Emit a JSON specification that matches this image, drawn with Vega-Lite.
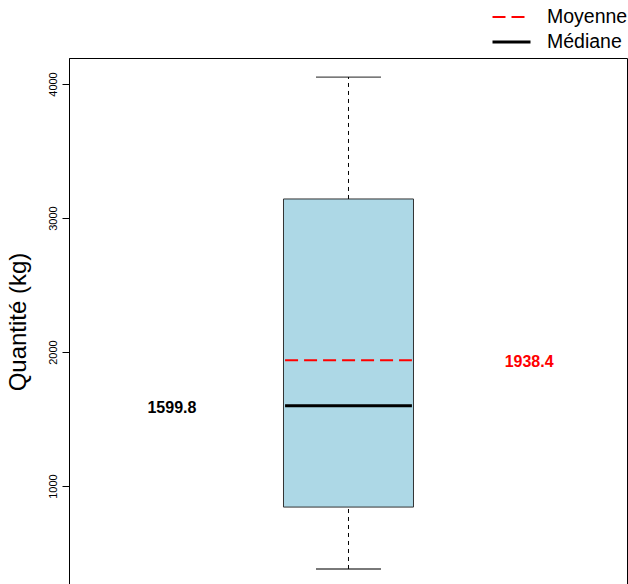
{
  "$schema": "https://vega.github.io/schema/vega-lite/v6.json",
  "width": 558,
  "height": 527,
  "autosize": "none",
  "padding": {"left": 69, "top": 58, "right": 1, "bottom": -1},
  "background": "white",
  "config": {"view": {"stroke": "#000000", "strokeWidth": 1}, "font": "Liberation Sans"},
  "datasets": {
    "stats": [{"groupe": 1, "min": 381, "q1": 843, "median": 1599.8, "q3": 3142, "max": 4052, "mean": 1938.4}],
    "lignes": [{"stat": "Moyenne", "valeur": 1938.4}, {"stat": "Médiane", "valeur": 1599.8}],
    "etiquettes": [{"lx": 0.652, "valeur": 1599.8, "texte": "1599.8"}, {"lx": 1.356, "valeur": 1938.4, "texte": "1938.4"}]
  },
  "layer": [
    {
      "data": {"name": "stats"},
      "mark": {"type": "bar", "width": 130, "fill": "#ADD8E6", "stroke": "#333333", "strokeWidth": 1},
      "encoding": {
        "x": {"field": "groupe", "type": "quantitative", "scale": {"domain": [0.459032, 1.539032], "nice": false, "zero": false}, "axis": null},
        "y": {"field": "q1", "type": "quantitative", "scale": {"domain": [261.5, 4194], "nice": false, "zero": false},
              "axis": {"values": [1000, 2000, 3000, 4000], "format": "d", "labelAngle": 270, "labelAlign": "center", "labelBaseline": "bottom",
                       "labelFontSize": 11, "labelColor": "#000000", "labelPadding": 4, "tickSize": 7, "tickColor": "#000000",
                       "domainColor": "#000000", "domainWidth": 1, "grid": false, "title": "Quantité (kg)", "titleFontSize": 24,
                       "titleFontWeight": "normal", "titleColor": "#000000", "titlePadding": 17}},
        "y2": {"field": "q3"}
      }
    },
    {
      "data": {"name": "stats"},
      "mark": {"type": "rule", "color": "#000000", "strokeWidth": 1, "strokeDash": [4, 4]},
      "encoding": {
        "x": {"field": "groupe", "type": "quantitative"},
        "y": {"field": "min", "type": "quantitative"},
        "y2": {"field": "q1"}
      }
    },
    {
      "data": {"name": "stats"},
      "mark": {"type": "rule", "color": "#000000", "strokeWidth": 1, "strokeDash": [4, 4]},
      "encoding": {
        "x": {"field": "groupe", "type": "quantitative"},
        "y": {"field": "q3", "type": "quantitative"},
        "y2": {"field": "max"}
      }
    },
    {
      "data": {"name": "stats"},
      "mark": {"type": "tick", "orient": "horizontal", "size": 65, "thickness": 1.3, "color": "#000000"},
      "encoding": {
        "x": {"field": "groupe", "type": "quantitative"},
        "y": {"field": "min", "type": "quantitative"}
      }
    },
    {
      "data": {"name": "stats"},
      "mark": {"type": "tick", "orient": "horizontal", "size": 65, "thickness": 1.3, "color": "#000000"},
      "encoding": {
        "x": {"field": "groupe", "type": "quantitative"},
        "y": {"field": "max", "type": "quantitative"}
      }
    },
    {
      "data": {"name": "lignes"},
      "mark": {"type": "rule"},
      "encoding": {
        "x": {"datum": 0.875, "type": "quantitative"},
        "x2": {"datum": 1.125},
        "y": {"field": "valeur", "type": "quantitative"},
        "color": {"field": "stat", "type": "nominal",
                  "scale": {"domain": ["Moyenne", "Médiane"], "range": ["#FF0000", "#000000"]},
                  "legend": {"orient": "none", "legendX": 422, "legendY": -53, "title": null, "padding": 0, "symbolType": "stroke",
                             "symbolSize": 1444, "clipHeight": 24, "labelFontSize": 19.5, "labelColor": "#000000", "labelOffset": 15, "rowPadding": 1}},
        "strokeDash": {"field": "stat", "type": "nominal",
                       "scale": {"domain": ["Moyenne", "Médiane"], "range": [[13, 6], [1, 0]]},
                       "legend": {"orient": "none", "legendX": 422, "legendY": -53, "title": null, "padding": 0, "symbolType": "stroke",
                                  "symbolSize": 1444, "clipHeight": 24, "labelFontSize": 19.5, "labelColor": "#000000", "labelOffset": 15, "rowPadding": 1}},
        "strokeWidth": {"field": "stat", "type": "ordinal",
                        "scale": {"domain": ["Moyenne", "Médiane"], "range": [2, 3]},
                        "legend": {"orient": "none", "legendX": 422, "legendY": -53, "title": null, "padding": 0, "symbolType": "stroke",
                                   "symbolSize": 1444, "clipHeight": 24, "labelFontSize": 19.5, "labelColor": "#000000", "labelOffset": 15, "rowPadding": 1}}
      }
    },
    {
      "data": {"name": "etiquettes"},
      "transform": [{"filter": "datum.texte == '1599.8'"}],
      "mark": {"type": "text", "fontSize": 16, "fontWeight": "bold", "color": "#000000", "baseline": "middle", "align": "center", "dy": 2},
      "encoding": {
        "x": {"field": "lx", "type": "quantitative"},
        "y": {"field": "valeur", "type": "quantitative"},
        "text": {"field": "texte"}
      }
    },
    {
      "data": {"name": "etiquettes"},
      "transform": [{"filter": "datum.texte == '1938.4'"}],
      "mark": {"type": "text", "fontSize": 16, "fontWeight": "bold", "color": "#FF0000", "baseline": "middle", "align": "center", "dy": 2},
      "encoding": {
        "x": {"field": "lx", "type": "quantitative"},
        "y": {"field": "valeur", "type": "quantitative"},
        "text": {"field": "texte"}
      }
    }
  ]
}
